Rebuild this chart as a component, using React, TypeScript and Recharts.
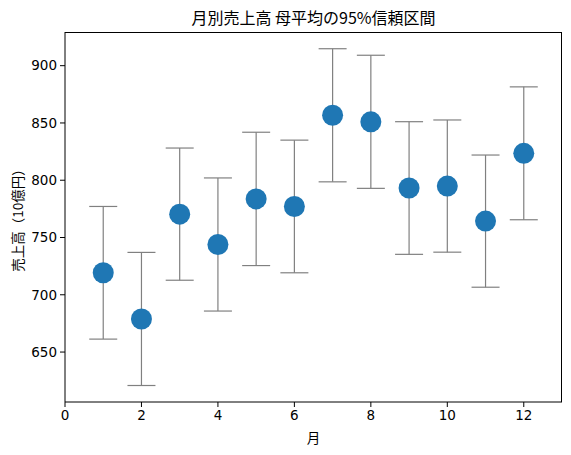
import React from 'react';
import { ScatterChart, Scatter, XAxis, YAxis, ErrorBar } from 'recharts';

const months = [1, 2, 3, 4, 5, 6, 7, 8, 9, 10, 11, 12];
const means = [719.2, 678.9, 770.4, 743.9, 783.7, 777.1, 856.7, 851.0, 793.2, 794.9, 764.3, 823.5];
const halfWidths = [57.9, 58.1, 57.7, 58.1, 58.2, 57.9, 58.1, 58.1, 57.9, 57.7, 57.7, 58.0];
const xTicks = [0, 2, 4, 6, 8, 10, 12];
const yTicks = [650, 700, 750, 800, 850, 900];

const data = months.map((m, i) => ({ month: m, sales: means[i], err: halfWidths[i] }));

const jp = '"Noto Sans CJK JP", "DejaVu Sans", sans-serif';
const tickStyle = { fontSize: 13.5, fill: '#000', fontFamily: '"DejaVu Sans", sans-serif' };

const Dot = (props: any) => <circle cx={props.cx} cy={props.cy} r={10.5} fill="#1f77b4" />;

export default function App() {
    return (
        <div style={{ position: 'absolute', left: 0, top: 0, width: 571, height: 455, background: '#fff' }}>
            <div style={{ position: 'absolute', left: 65, width: 497, top: 5, textAlign: 'center', fontFamily: jp, fontSize: 16, color: '#000' }}>
                月別売上高 母平均の95%信頼区間
            </div>
            <ScatterChart width={571} height={455} margin={{ top: 32, right: 9, bottom: 23, left: 5 }}>
                <XAxis
                    type="number"
                    dataKey="month"
                    domain={[0, 13]}
                    ticks={xTicks}
                    allowDataOverflow
                    height={30}
                    tick={tickStyle}
                    tickSize={5}
                    tickMargin={3}
                    stroke="#000"
                />
                <YAxis
                    type="number"
                    dataKey="sales"
                    domain={[606.4, 929.4]}
                    ticks={yTicks}
                    allowDataOverflow
                    width={60}
                    tick={tickStyle}
                    tickSize={5}
                    tickMargin={3}
                    stroke="#000"
                />
                <Scatter data={data} shape={Dot} isAnimationActive={false}>
                    <ErrorBar dataKey="err" direction="y" width={14} stroke="#808080" strokeWidth={1.2} isAnimationActive={false} />
                </Scatter>
            </ScatterChart>
            {/* top and right spines */}
            <div style={{
                position: 'absolute', left: 65, top: 32, width: 497, height: 370, boxSizing: 'border-box',
                borderTop: '1px solid #000', borderRight: '1px solid #000', pointerEvents: 'none'
            }} />
            <div style={{ position: 'absolute', left: 65, width: 497, top: 427, textAlign: 'center', fontFamily: jp, fontSize: 13.5, color: '#000' }}>
                月
            </div>
            <div style={{
                position: 'absolute', left: 17, top: 217, width: 200, marginLeft: -100, marginTop: -10, height: 20,
                lineHeight: '20px', textAlign: 'center', transform: 'rotate(-90deg)', fontFamily: jp, fontSize: 13.5, color: '#000'
            }}>
                売上高（10億円）
            </div>
        </div>
    );
}
